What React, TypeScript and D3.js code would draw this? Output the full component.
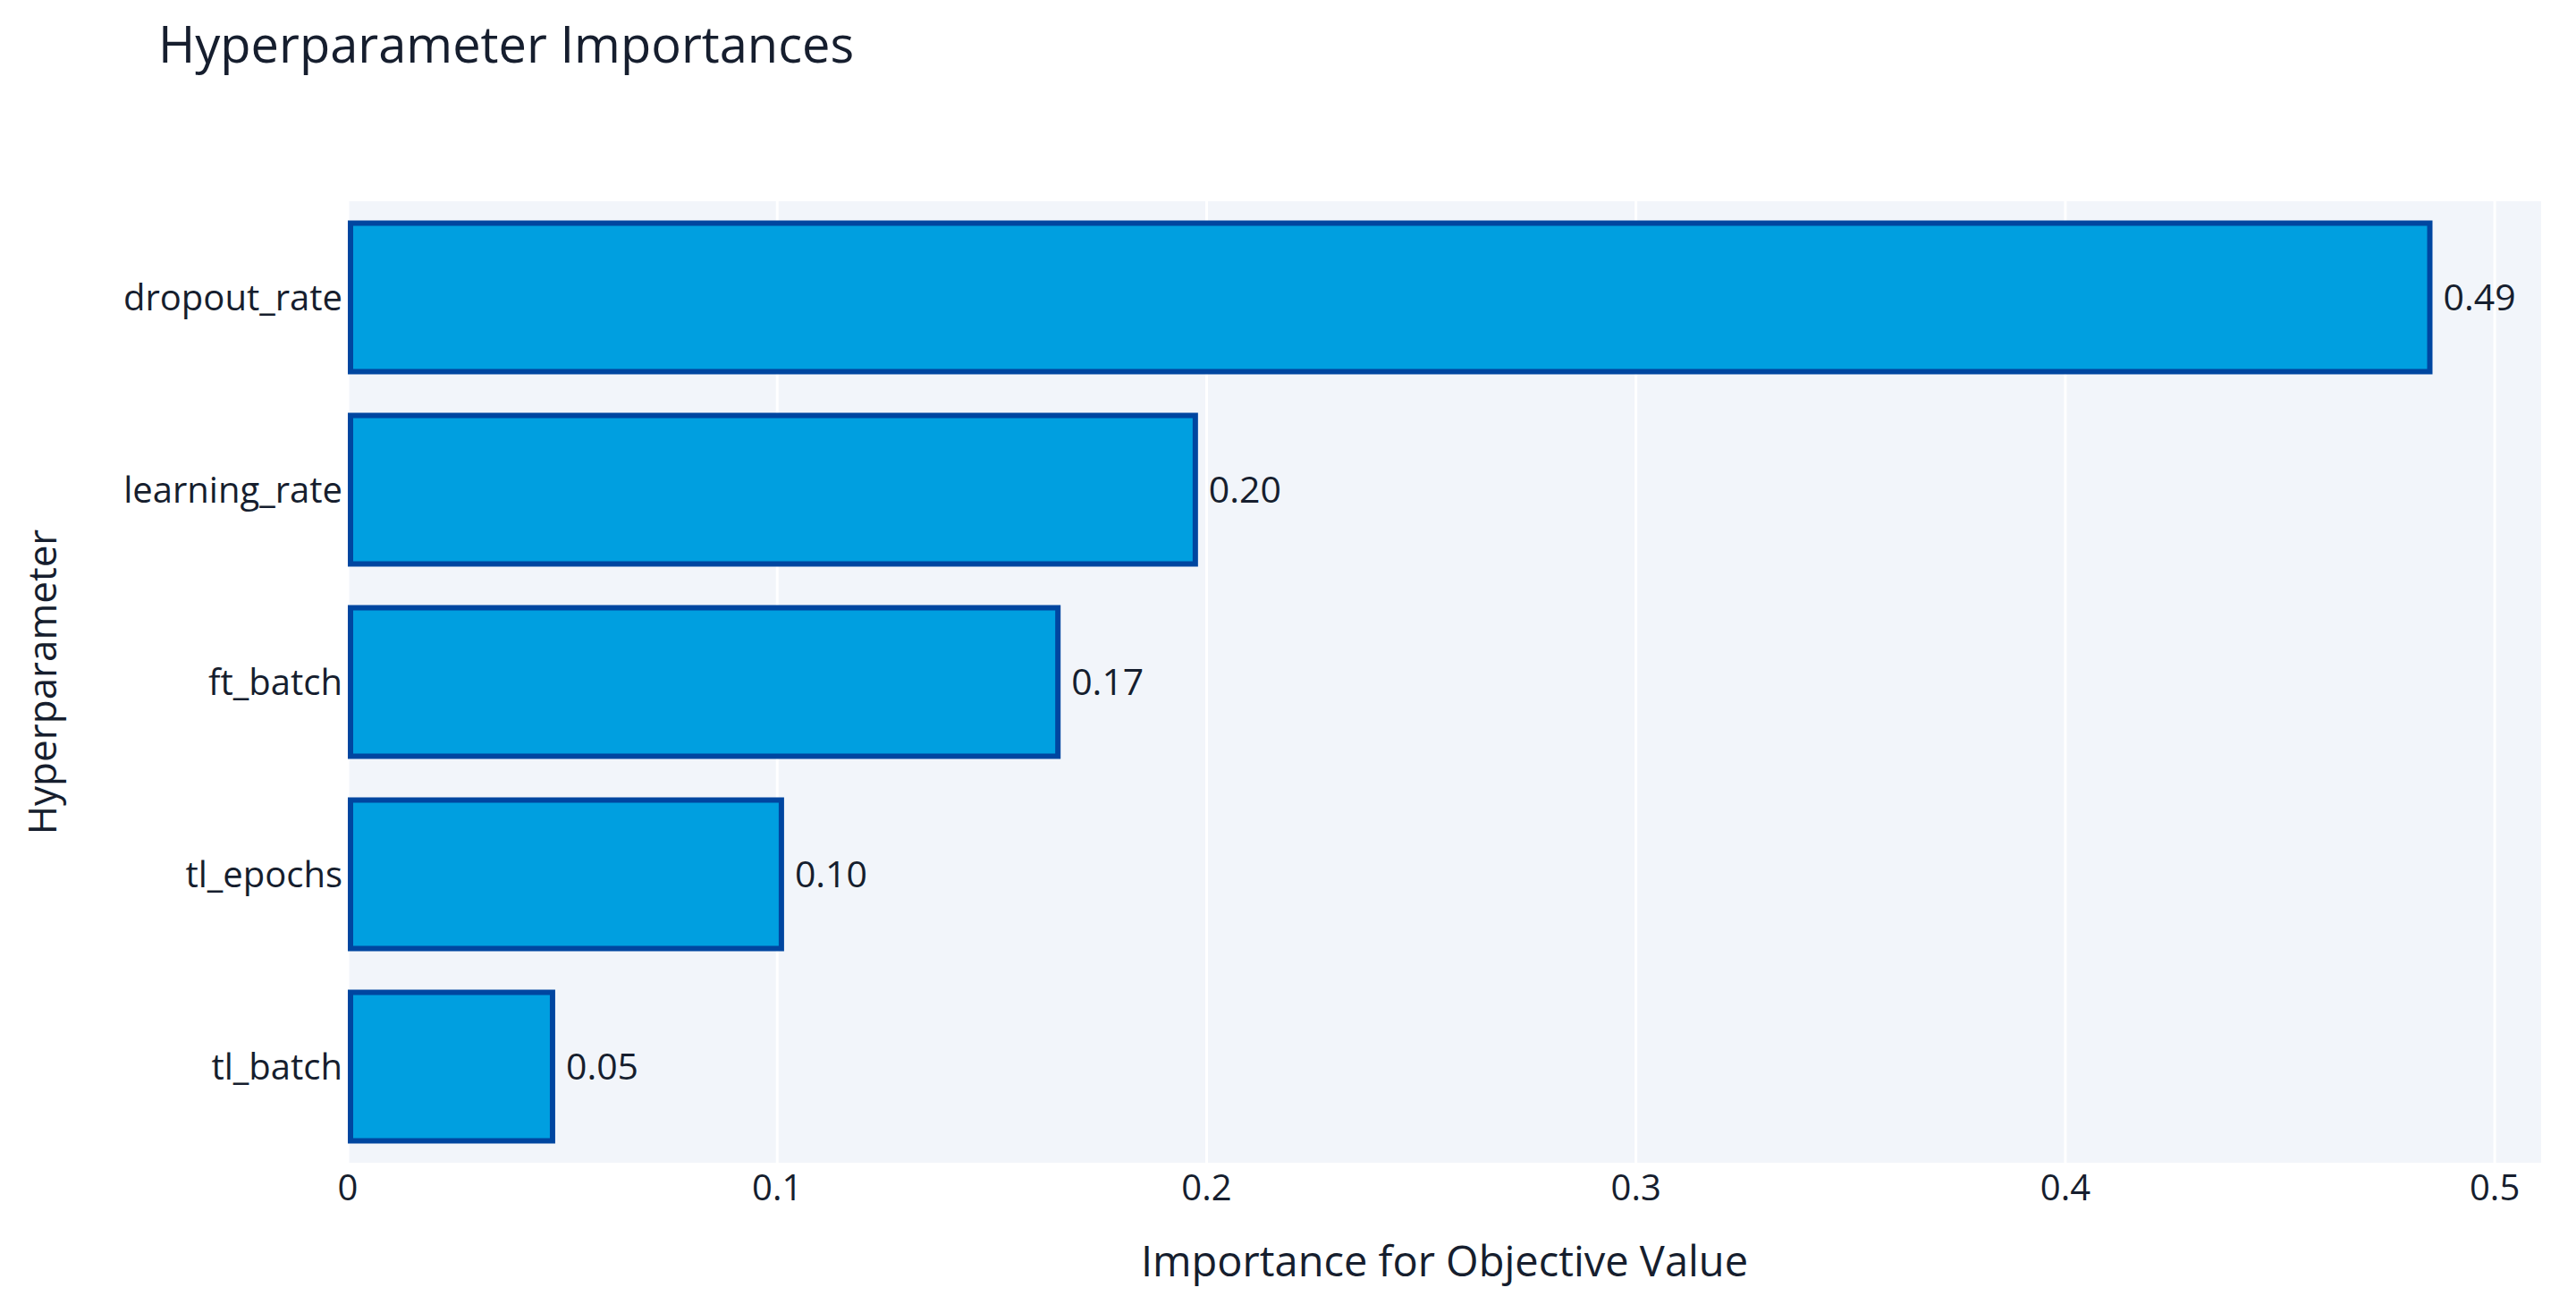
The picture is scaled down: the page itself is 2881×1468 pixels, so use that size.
import React from "react";
import * as d3 from "d3";

const categories = ["dropout_rate", "learning_rate", "ft_batch", "tl_epochs", "tl_batch"];
const importances = [0.4855, 0.198, 0.166, 0.1016, 0.0483];
const xTicks = [0, 0.1, 0.2, 0.3, 0.4, 0.5];
const titleText = "Hyperparameter Importances";
const xTitle = "Importance for Objective Value";
const yTitle = "Hyperparameter";

const W = 2881;
const H = 1468;
const M = { left: 389, right: 2842, top: 225, bottom: 1300 };
const FONT = "'Open Sans', 'DejaVu Sans', sans-serif";
const TEXT = "#161e2e";

export default function App() {
  const x = d3.scaleLinear().domain([0, 0.5108]).range([M.left, M.right]);
  const y = d3
    .scaleBand<string>()
    .domain(categories)
    .range([M.top, M.bottom])
    .paddingInner(0.2)
    .paddingOuter(0.1);
  const fmt = d3.format(".2f");
  const tickFmt = (v: number) => (v === 0 ? "0" : d3.format(".1f")(v));
  const bw = 6;

  return (
    <svg
      width={W}
      height={H}
      style={{ position: "absolute", left: 0, top: 0, background: "#ffffff" }}
      fontFamily={FONT}
    >
      <rect x={0} y={0} width={W} height={H} fill="#ffffff" />
      <rect
        x={M.left}
        y={M.top}
        width={M.right - M.left}
        height={M.bottom - M.top}
        fill="#f2f5fa"
      />
      {xTicks.map((t) => (
        <line
          key={"g" + t}
          x1={x(t)}
          x2={x(t)}
          y1={M.top}
          y2={M.bottom}
          stroke="#ffffff"
          strokeWidth={3}
        />
      ))}
      {categories.map((c, i) => {
        const y0 = y(c)!;
        const h = y.bandwidth();
        const x1 = x(importances[i]);
        return (
          <g key={c}>
            <rect
              x={x(0) + bw / 2}
              y={y0 + bw / 2}
              width={x1 - x(0) - bw}
              height={h - bw}
              fill="#009fe0"
              stroke="#0046a0"
              strokeWidth={bw}
            />
            <text
              x={x1 + 12}
              y={y0 + h / 2}
              dy="0.36em"
              fontSize={41}
              fill={TEXT}
            >
              {fmt(importances[i])}
            </text>
            <text
              x={M.left - 6}
              y={y0 + h / 2}
              dy="0.36em"
              fontSize={40}
              textAnchor="end"
              fill={TEXT}
            >
              {c}
            </text>
          </g>
        );
      })}
      {xTicks.map((t) => (
        <text
          key={"t" + t}
          x={x(t)}
          y={1342}
          fontSize={40}
          textAnchor="middle"
          fill={TEXT}
        >
          {tickFmt(t)}
        </text>
      ))}
      <text x={177} y={70} fontSize={56} fill={TEXT}>
        {titleText}
      </text>
      <text
        x={(M.left + M.right) / 2}
        y={1427}
        fontSize={47}
        textAnchor="middle"
        fill={TEXT}
      >
        {xTitle}
      </text>
      <text
        transform={`translate(63, ${(M.top + M.bottom) / 2}) rotate(-90)`}
        fontSize={44}
        textAnchor="middle"
        fill={TEXT}
      >
        {yTitle}
      </text>
    </svg>
  );
}
